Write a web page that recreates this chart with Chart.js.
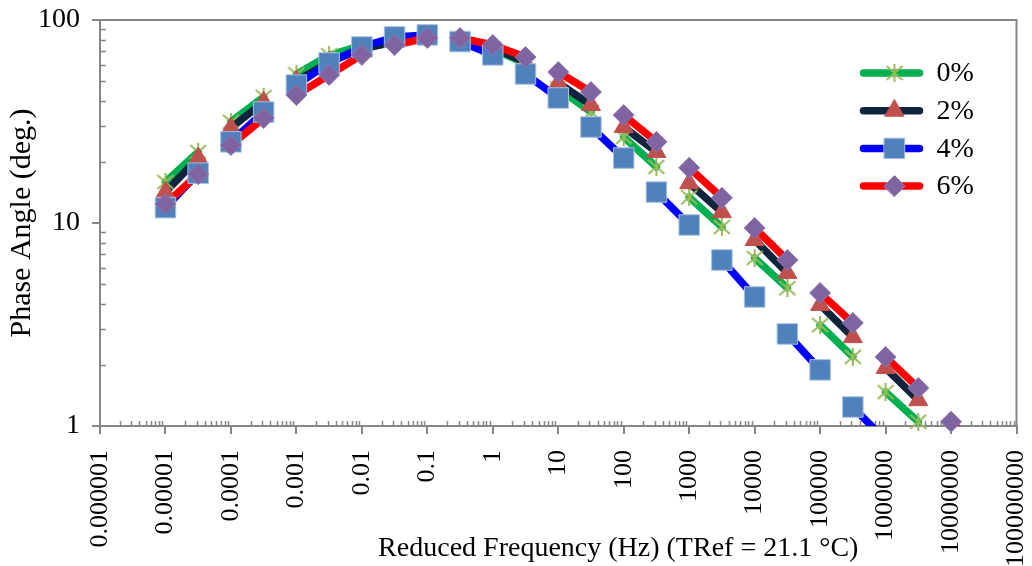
<!DOCTYPE html>
<html><head><meta charset="utf-8">
<script src="https://cdn.jsdelivr.net/npm/chart.js@4/dist/chart.umd.min.js"></script>
<style>html,body{margin:0;padding:0;background:#fff;}</style>
</head><body>
<canvas id="c" width="1032" height="566"></canvas>
<script>
// ---------- data ----------
const frequencies = [1e-5, 3.16e-5, 1e-4, 3.16e-4, 1e-3, 3.16e-3, 1e-2, 3.16e-2, 0.1, 0.316, 1, 3.16, 10, 31.6,
  100, 316, 1000, 3162, 1e4, 31623, 1e5, 316228, 1e6, 3162278, 1e7, 31622777];
const seriesNames = ['0%', '2%', '4%', '6%'];
const phase0 = [15.9, 22.4, 31.5, 41.8, 54, 67, 75, 80, 82.5, 79, 72, 61, 46, 35.2, 26.5, 18.9, 13.4, 9.56, 6.72, 4.78, 3.14, 2.19, 1.47, 1.05, null, null];
const phase2 = [14.2, 20.9, 29.4, 39.4, 50, 62, 72, 78, 81, 79, 73, 62, 49, 38.1, 29.7, 22.4, 15.7, 11.3, 8.25, 5.67, 3.95, 2.74, 1.93, 1.34, 0.98, 0.7];
const phase4 = [11.9, 17.6, 25.1, 35.2, 47.8, 61.4, 73.6, 82.5, 84.4, 78.3, 67.3, 54.2, 41.3, 29.7, 20.9, 14.2, 9.78, 6.57, 4.32, 2.84, 1.89, 1.24, 0.85, null, null, null];
const phase6 = [12.4, 17.4, 24.2, 32.9, 42.7, 53.6, 67.3, 75.3, 81.5, 81.5, 75.3, 65.7, 55.4, 44.2, 34.0, 25.1, 18.7, 13.3, 9.45, 6.57, 4.52, 3.22, 2.19, 1.54, 1.05, 0.74];
// connected line pieces (index ranges into frequencies)
const pieces0 = [[0,1],[2,3],[4,8],[10,11],[12,13],[14,15],[16,17],[18,19],[20,21],[22,23]];
const pieces2 = [[0,1],[2,3],[4,8],[10,11],[12,13],[14,15],[16,17],[18,19],[20,21],[22,23],[24,25]];
const pieces4 = [[0,1],[2,3],[4,8],[9,10],[11,12],[13,14],[15,16],[17,18],[19,20],[21,22]];
const pieces6 = [[0,1],[2,3],[4,6],[7,8],[9,11],[12,13],[14,15],[16,17],[18,19],[20,21],[22,23],[24,25]];
const xTickValues = [1e-6, 1e-5, 1e-4, 1e-3, 1e-2, 1e-1, 1, 10, 100, 1e3, 1e4, 1e5, 1e6, 1e7, 1e8];
const xTickLabels = ['0.000001','0.00001','0.0001','0.001','0.01','0.1','1','10','100','1000','10000','100000','1000000','10000000','100000000'];
const yTickValues = [1, 10, 100];
const yTickLabels = ['1', '10', '100'];
const xTitle = 'Reduced Frequency (Hz) (TRef = 21.1 °C)';
const yTitle = 'Phase Angle (deg.)';

// ---------- styles ----------
const FONT = "'Liberation Serif', 'Times New Roman', serif";
const AXIS = '#868686';
function starImage() {
  const c = document.createElement('canvas'); c.width = 18; c.height = 18;
  const g = c.getContext('2d'); g.strokeStyle = '#9BBB59'; g.lineWidth = 2;
  g.beginPath();
  g.moveTo(9, 0); g.lineTo(9, 18);
  g.moveTo(1, 2); g.lineTo(17, 16);
  g.moveTo(17, 2); g.lineTo(1, 16);
  g.stroke();
  return c;
}
const styles = [
  {line: '#00B050', pointStyle: starImage(), radius: 9, fill: '#9BBB59', border: '#9BBB59', bw: 0},
  {line: '#10243E', pointStyle: 'triangle', radius: 11, fill: '#C0504D', border: '#C0504D', bw: 1},
  {line: '#0000FF', pointStyle: 'rect', radius: 14.5, fill: '#4F81BD', border: '#A9C0DE', bw: 1},
  {line: '#FF0000', pointStyle: 'rectRot', radius: 10.5, fill: '#8064A2', border: '#8F78AE', bw: 1},
];
const allPhases = [phase0, phase2, phase4, phase6];
const allPieces = [pieces0, pieces2, pieces4, pieces6];

const datasets = [];
allPhases.forEach((vals, s) => {
  const pts = [];
  allPieces[s].forEach(([a, b]) => {
    for (let k = a; k <= b; k++) pts.push({x: frequencies[k], y: vals[k]});
    pts.push({x: frequencies[b], y: null});
  });
  datasets.push({
    label: seriesNames[s] + ' line', data: pts, order: 8 - s,
    borderColor: styles[s].line, borderWidth: 7.5, borderCapStyle: 'round', borderJoinStyle: 'round',
    pointRadius: 0, pointHoverRadius: 0, spanGaps: false, tension: 0, fill: false
  });
});
allPhases.forEach((vals, s) => {
  const pts = [];
  vals.forEach((v, k) => { if (v !== null && v >= 1) pts.push({x: frequencies[k], y: v}); });
  datasets.push({
    label: seriesNames[s], data: pts, order: 4 - s, showLine: false, clip: false,
    pointStyle: styles[s].pointStyle, pointRadius: styles[s].radius, pointHoverRadius: styles[s].radius,
    pointBackgroundColor: styles[s].fill, pointBorderColor: styles[s].border, pointBorderWidth: styles[s].bw,
    backgroundColor: styles[s].fill, borderColor: styles[s].border
  });
});

const decor = {
  id: 'decor',
  beforeDatasetsDraw(chart) {
    const {ctx, chartArea: a, scales: {x, y}} = chart;
    ctx.save();
    ctx.strokeStyle = AXIS;
    ctx.lineWidth = 2;
    ctx.beginPath();
    ctx.moveTo(a.left, a.top); ctx.lineTo(a.right, a.top); ctx.lineTo(a.right, a.bottom);
    ctx.stroke();
    ctx.lineWidth = 1.5;
    ctx.beginPath();
    for (let i = 0; i < xTickValues.length - 1; i++) {
      for (let m = 2; m <= 9; m++) {
        const px = Math.round(x.getPixelForValue(xTickValues[i] * m)) + 0.5;
        ctx.moveTo(px, a.bottom); ctx.lineTo(px, a.bottom - 5);
      }
    }
    for (let i = 0; i < yTickValues.length - 1; i++) {
      for (let m = 2; m <= 9; m++) {
        const py = Math.round(y.getPixelForValue(yTickValues[i] * m)) + 0.5;
        ctx.moveTo(a.left, py); ctx.lineTo(a.left + 6, py);
      }
    }
    ctx.stroke();
    ctx.restore();
  },
  afterDraw(chart) {
    const {ctx, chartArea: a} = chart;
    ctx.save();
    // x title
    ctx.fillStyle = '#000';
    ctx.font = '28px ' + FONT;
    ctx.textAlign = 'center';
    ctx.textBaseline = 'alphabetic';
    ctx.fillText(xTitle, (a.left + a.right) / 2 + 60, 556);
    // legend
    const x0 = a.right - 153, x1 = a.right - 97, mx = a.right - 122;
    seriesNames.forEach((name, s) => {
      const yy = a.top + 53 + s * 37.7;
      ctx.strokeStyle = styles[s].line; ctx.lineWidth = 7.5; ctx.lineCap = 'round';
      ctx.beginPath(); ctx.moveTo(x0, yy); ctx.lineTo(x1, yy); ctx.stroke();
      ctx.fillStyle = styles[s].fill; ctx.strokeStyle = styles[s].border; ctx.lineWidth = styles[s].bw || 1;
      Chart.helpers.drawPoint(ctx, {pointStyle: styles[s].pointStyle, radius: styles[s].radius, rotation: 0, borderWidth: styles[s].bw}, mx, yy);
      ctx.fillStyle = '#000';
      ctx.font = '28px ' + FONT;
      ctx.textAlign = 'left'; ctx.textBaseline = 'middle';
      ctx.fillText(name, a.right - 80, yy + 1);
    });
    ctx.restore();
  }
};

new Chart(document.getElementById('c'), {
  type: 'line',
  data: {datasets},
  plugins: [decor],
  options: {
    responsive: false, animation: false, devicePixelRatio: 1,
    layout: {padding: {top: 20, right: 13, left: 0, bottom: 0}},
    plugins: {legend: {display: false}, tooltip: {enabled: false}},
    scales: {
      x: {
        type: 'logarithmic', min: 1e-6, max: 1e8,
        afterBuildTicks: s => { s.ticks = xTickValues.map(v => ({value: v})); },
        afterFit: s => { s.height = 140; s.paddingLeft = 0; s.paddingRight = 0; },
        ticks: {autoSkip: false, maxRotation: 90, minRotation: 90, padding: 16, color: '#000',
          font: {family: FONT, size: 26},
          callback: (v, i) => xTickLabels[i]},
        grid: {display: true, drawOnChartArea: false, drawTicks: true, tickLength: 8, color: AXIS, lineWidth: 2},
        border: {display: true, color: AXIS, width: 2}
      },
      y: {
        type: 'logarithmic', min: 1, max: 100,
        afterBuildTicks: s => { s.ticks = yTickValues.map(v => ({value: v})); },
        afterFit: s => { s.width = 100; s.paddingTop = 0; s.paddingBottom = 0; },
        ticks: {padding: 12, color: '#000', font: {family: FONT, size: 28},
          callback: (v, i) => yTickLabels[i]},
        grid: {display: true, drawOnChartArea: false, drawTicks: true, tickLength: 8, color: AXIS, lineWidth: 2},
        border: {display: true, color: AXIS, width: 2},
        title: {display: true, text: yTitle, color: '#000', font: {family: FONT, size: 30}, padding: {top: 4, bottom: 0}}
      }
    }
  }
});
</script>
</body></html>
